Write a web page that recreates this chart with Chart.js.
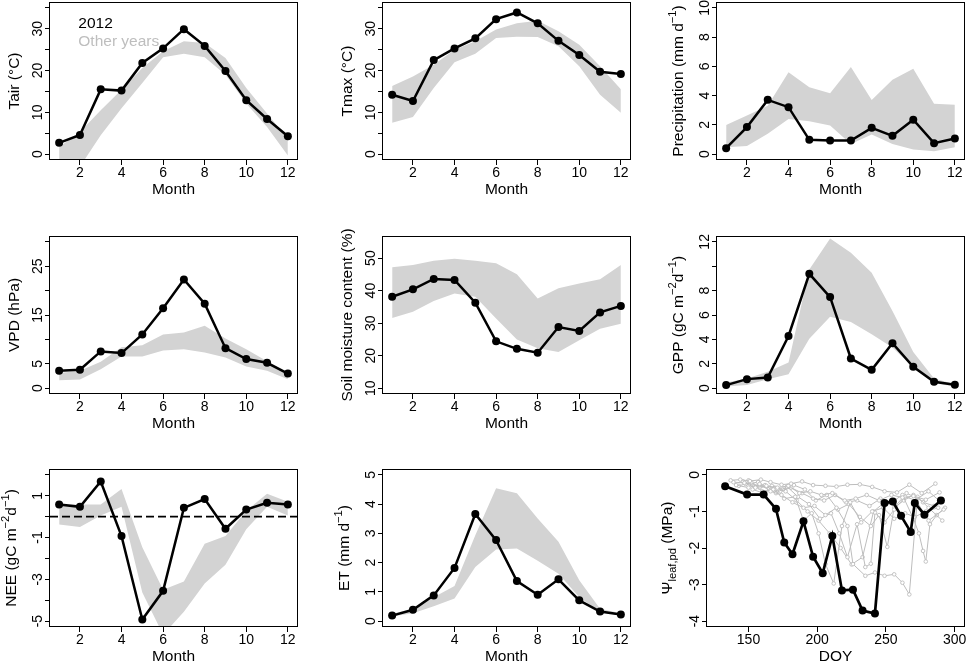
<!DOCTYPE html>
<html>
<head>
<meta charset="utf-8">
<script src="https://cdn.jsdelivr.net/npm/chart.js@4.4.0/dist/chart.umd.min.js"></script>
<style>
html, body { margin: 0; padding: 0; background: #fff; overflow: hidden; width: 968px; height: 664px; }
canvas { position: absolute; }
</style>
</head>
<body>
<script>
// months on the x axis of the monthly panels
const months = [1, 2, 3, 4, 5, 6, 7, 8, 9, 10, 11, 12];

// air temperature (°C): 2012 line, other years envelope
const tair2012 = [2.7, 4.6, 15.5, 15.2, 21.8, 25.3, 29.9, 25.9, 19.9, 12.9, 8.4, 4.3];
const tairHi = [1.7, 5.3, 10.5, 15.4, 20.6, 24.6, 27.0, 26.6, 23.0, 15.8, 9.7, 3.7];
const tairLo = [-2.0, -3.0, 4.5, 11.0, 17.0, 23.2, 24.0, 23.2, 19.0, 12.1, 6.5, -0.3];

// max temperature (°C)
const tmax2012 = [14.2, 12.7, 22.5, 25.3, 27.7, 32.3, 33.9, 31.3, 27.1, 23.7, 19.7, 19.2];
const tmaxHi = [16.3, 18.6, 21.4, 25.0, 27.0, 29.8, 31.3, 31.9, 29.4, 26.2, 21.0, 15.5];
const tmaxLo = [7.5, 8.9, 15.8, 22.0, 24.0, 27.8, 28.1, 28.0, 25.8, 21.0, 14.2, 9.9];

// precipitation (mm/d)
const prec2012 = [0.41, 1.85, 3.71, 3.21, 0.98, 0.93, 0.93, 1.80, 1.25, 2.35, 0.75, 1.07];
const precHi = [2.0, 2.64, 3.3, 5.6, 4.58, 4.17, 5.95, 3.7, 5.08, 5.83, 3.44, 3.37];
const precLo = [0.48, 0.55, 1.4, 2.4, 2.25, 1.96, 0.7, 1.35, 0.7, 0.32, 0.2, 0.48];

// VPD (hPa)
const vpd2012 = [3.56, 3.77, 7.53, 7.19, 11.0, 16.4, 22.3, 17.3, 8.2, 5.96, 5.2, 3.0];
const vpdHi = [3.1, 3.56, 5.4, 8.4, 8.8, 11.0, 11.4, 12.8, 10.2, 8.0, 5.5, 2.5];
const vpdLo = [1.64, 1.78, 3.9, 6.5, 6.5, 7.7, 8.0, 7.3, 6.3, 4.45, 3.56, 1.85];

// soil moisture (%)
const swc2012 = [38.1, 40.4, 43.6, 43.3, 36.3, 24.4, 22.1, 20.9, 28.8, 27.6, 33.3, 35.3];
const swcHi = [47.2, 47.9, 49.2, 49.8, 49.2, 48.4, 45.0, 37.6, 40.7, 42.2, 43.5, 47.9];
const swcLo = [31.6, 33.5, 36.8, 39.1, 38.1, 31.4, 25.0, 22.3, 21.1, 24.7, 28.3, 29.8];

// GPP (gC m-2 d-1)
const gpp2012 = [0.25, 0.74, 0.87, 4.28, 9.38, 7.47, 2.43, 1.5, 3.68, 1.75, 0.52, 0.27];
const gppHi = [0.46, 0.79, 1.34, 2.1, 9.74, 12.27, 11.1, 9.46, 6.33, 2.97, 0.79, 0.33];
const gppLo = [0.14, 0.25, 0.74, 1.15, 4.06, 5.86, 5.43, 4.42, 3.33, 1.69, 0.41, 0.14];

// NEE (gC m-2 d-1)
const nee2012 = [0.58, 0.47, 1.68, -0.93, -4.92, -3.55, 0.42, 0.84, -0.58, 0.34, 0.66, 0.58];
const neeHi = [0.58, 0.58, 0.58, 1.32, -1.46, -3.5, -3.1, -1.3, -0.93, 0.28, 1.1, 0.71];
const neeLo = [-0.38, -0.5, 0.06, 0.47, -3.63, -5.65, -4.55, -3.2, -2.3, -0.6, 0.47, 0.06];

// ET (mm/d)
const et2012 = [0.19, 0.39, 0.88, 1.82, 3.66, 2.77, 1.37, 0.9, 1.43, 0.71, 0.33, 0.23];
const etHi = [0.25, 0.42, 0.82, 1.2, 2.94, 4.54, 4.37, 3.51, 2.71, 1.4, 0.42, 0.27];
const etLo = [0.16, 0.27, 0.51, 0.77, 1.85, 2.45, 2.48, 2.06, 1.62, 0.82, 0.31, 0.19];

// predawn leaf water potential (MPa) vs DOY, 2012
const psiDoy2012 = [133, 149, 161, 170, 176, 182, 190, 197, 204, 211, 218, 226, 233, 242, 249, 255, 261, 268, 271, 278, 290];
const psi2012 = [-0.31, -0.54, -0.54, -0.93, -1.85, -2.17, -1.27, -2.24, -2.69, -1.67, -3.16, -3.14, -3.71, -3.79, -0.77, -0.73, -1.12, -1.56, -0.77, -1.09, -0.70];

// other years
const oy1Doy = [137, 144, 151, 159, 166, 174, 181, 189, 197, 206, 214, 222, 231, 240, 249, 258, 267, 276, 286];
const oy1Psi = [-0.15, -0.13, -0.17, -0.13, -0.2, -0.27, -0.24, -0.18, -0.28, -0.3, -0.32, -0.27, -0.26, -0.33, -0.45, -0.48, -0.27, -0.5, -0.24];
const oy2Doy = [139, 147, 155, 163, 171, 179, 187, 195, 203, 211, 220, 228, 236, 245, 254, 262, 270, 279, 289];
const oy2Psi = [-0.2, -0.22, -0.35, -0.3, -0.35, -0.3, -0.5, -0.45, -0.55, -0.5, -0.7, -0.65, -0.55, -0.7, -0.55, -0.62, -0.58, -0.68, -0.48];
const oy3Doy = [141, 150, 158, 166, 174, 182, 190, 198, 206, 214, 222, 226, 235, 242, 249, 256, 262, 267, 273, 281, 291];
const oy3Psi = [-0.28, -0.35, -0.25, -0.45, -0.55, -0.75, -0.9, -0.85, -1.1, -0.9, -1.4, -2.44, -2.76, -2.67, -2.76, -2.72, -2.95, -3.27, -0.6, -0.9, -1.25];
const oy4Doy = [143, 152, 160, 168, 176, 184, 190, 196, 201, 206, 212, 218, 224, 232, 240, 248, 256, 264, 271, 279, 288];
const oy4Psi = [-0.3, -0.2, -0.45, -0.4, -0.65, -0.6, -1.25, -1.05, -1.6, -2.44, -2.97, -1.4, -0.75, -1.3, -1.0, -0.9, -1.2, -1.05, -1.15, -1.0, -0.9];
const oy5Doy = [146, 154, 162, 170, 178, 186, 194, 202, 210, 216, 222, 229, 235, 239, 242, 249, 256, 264, 272, 281, 292];
const oy5Psi = [-0.18, -0.3, -0.28, -0.5, -0.32, -0.6, -0.8, -1.2, -1.05, -1.6, -2.25, -1.35, -2.52, -2.43, -1.03, -1.3, -0.95, -0.6, -0.7, -1.25, -0.95];
const oy6Doy = [148, 157, 165, 173, 181, 189, 197, 205, 213, 221, 229, 238, 246, 254, 262, 270, 274, 277, 279, 282, 287, 293];
const oy6Psi = [-0.25, -0.2, -0.38, -0.45, -0.35, -0.5, -0.65, -0.7, -0.55, -0.75, -0.7, -0.85, -0.65, -0.75, -0.55, -1.2, -1.6, -2.08, -2.37, -1.35, -1.1, -0.9];
const oy7Doy = [150, 158, 167, 175, 183, 191, 199, 207, 215, 223, 231, 239, 245, 251, 256, 263, 270, 277, 285];
const oy7Psi = [-0.15, -0.35, -0.3, -0.4, -0.28, -0.4, -0.7, -0.55, -0.95, -0.8, -1.15, -1.4, -1.1, -1.97, -0.9, -0.7, -0.55, -0.75, -0.85];
const oy8Doy = [153, 161, 169, 177, 185, 193, 201, 209, 217, 225, 233, 241, 249, 257, 265, 273, 281, 290];
const oy8Psi = [-0.4, -0.5, -0.35, -0.45, -0.7, -1.0, -1.25, -1.6, -2.0, -2.45, -2.25, -1.0, -0.75, -0.85, -0.5, -0.65, -0.45, -0.75];

const otherDoy = [oy1Doy, oy2Doy, oy3Doy, oy4Doy, oy5Doy, oy6Doy, oy7Doy, oy8Doy];
const otherPsi = [oy1Psi, oy2Psi, oy3Psi, oy4Psi, oy5Psi, oy6Psi, oy7Psi, oy8Psi];

const FONT = '"Liberation Sans", Arial, Helvetica, sans-serif';
Chart.defaults.font.family = FONT;
Chart.defaults.color = '#000';

const BAND = '#d3d3d3';
const OTHER = '#bdbdbd';
const TITLE_SIZE = 15.5;

// box positions of the 3x3 grid
const colLeft = [50, 383, 717];
const rowTop = [2, 236, 469];
const boxH = 158;
const PAD_TOP = 14;

function pairs(xs, ys) {
  return xs.map((x, i) => ({ x: x, y: ys[i] }));
}

function range(a, b, s) {
  const out = [];
  for (let v = a; v <= b + 1e-9; v += s) out.push(Math.round(v * 100) / 100);
  return out;
}

function drawRich(ctx, segs, size) {
  const fonts = segs.map(s => ((s.sup || s.sub) ? size * 0.72 : size) + 'px ' + FONT);
  let total = 0;
  const widths = segs.map((s, i) => {
    ctx.font = fonts[i];
    const w = ctx.measureText(s.t).width;
    total += w;
    return w;
  });
  let x = -total / 2;
  ctx.textAlign = 'left';
  ctx.textBaseline = 'alphabetic';
  segs.forEach((s, i) => {
    ctx.font = fonts[i];
    const dy = s.sup ? -size * 0.42 : (s.sub ? size * 0.28 : 0);
    ctx.fillText(s.t, x, dy);
    x += widths[i];
  });
}

function monthSets(line, hi, lo) {
  return [
    { data: pairs(months, line), borderColor: '#000', borderWidth: 2.5, pointRadius: 4,
      pointBackgroundColor: '#000', pointBorderWidth: 0, fill: false },
    { data: pairs(months, hi), borderColor: 'rgba(0,0,0,0)', borderWidth: 0, pointRadius: 0,
      backgroundColor: BAND, fill: '+1' },
    { data: pairs(months, lo), borderColor: 'rgba(0,0,0,0)', borderWidth: 0, pointRadius: 0, fill: false }
  ];
}

function makePanel(p) {
  const boxL = p.boxL !== undefined ? p.boxL : colLeft[p.col];
  const boxW = p.boxW !== undefined ? p.boxW : 247;
  const W = 50 + boxW + 8, H = PAD_TOP + boxH + 46;
  const cv = document.createElement('canvas');
  cv.width = W; cv.height = H;
  cv.style.left = (boxL - 50) + 'px';
  cv.style.top = (rowTop[p.row] - PAD_TOP) + 'px';
  document.body.appendChild(cv);

  const decor = {
    id: 'decor' + p.col + p.row,
    beforeDatasetsDraw(chart) {
      if (!p.legend) return;
      const ctx = chart.ctx, a = chart.chartArea;
      ctx.save();
      ctx.font = TITLE_SIZE + 'px ' + FONT;
      ctx.textAlign = 'left';
      ctx.textBaseline = 'alphabetic';
      ctx.fillStyle = '#000';
      ctx.fillText('2012', a.left + 28.3, a.top + 26.3);
      ctx.fillStyle = '#bebebe';
      ctx.fillText('Other years', a.left + 28.3, a.top + 44);
      ctx.restore();
    },
    afterDatasetDraw(chart, args) {
      if (p.hline === undefined || args.index !== 1) return;
      const ctx = chart.ctx, a = chart.chartArea;
      const y = chart.scales.y.getPixelForValue(p.hline);
      ctx.save();
      ctx.strokeStyle = '#000';
      ctx.lineWidth = 1.7;
      ctx.setLineDash([8, 4]);
      ctx.beginPath();
      ctx.moveTo(a.left, y);
      ctx.lineTo(a.right, y);
      ctx.stroke();
      ctx.restore();
    },
    afterDraw(chart) {
      const ctx = chart.ctx, a = chart.chartArea, ys = chart.scales.y;
      ctx.save();
      ctx.strokeStyle = '#000';
      ctx.lineWidth = 1;
      ctx.strokeRect(a.left - 0.5, a.top + 0.5, a.right - a.left + 1, a.bottom - a.top - 1);
      ctx.fillStyle = '#000';
      ctx.font = '14px ' + FONT;
      ctx.textAlign = 'center';
      ctx.textBaseline = 'alphabetic';
      p.yLabels.forEach(v => {
        ctx.save();
        ctx.translate(a.left - 8.3, ys.getPixelForValue(v));
        ctx.rotate(-Math.PI / 2);
        ctx.fillText(String(v), 0, 0);
        ctx.restore();
      });
      ctx.translate(a.left - p.titleOff, (a.top + a.bottom) / 2);
      ctx.rotate(-Math.PI / 2);
      drawRich(ctx, p.title, TITLE_SIZE);
      ctx.restore();
    }
  };

  new Chart(cv, {
    type: 'line',
    data: { datasets: p.datasets },
    options: {
      responsive: false,
      animation: false,
      layout: { padding: { left: 0, top: PAD_TOP, right: 8, bottom: 0 } },
      elements: { line: { tension: 0 } },
      plugins: { legend: { display: false }, tooltip: { enabled: false } },
      scales: {
        x: {
          type: 'linear', min: p.xMin, max: p.xMax,
          afterBuildTicks: s => { s.ticks = p.xTicks.map(v => ({ value: v })); },
          afterFit: s => { s.height = 46; },
          grid: { drawOnChartArea: false, drawTicks: true, tickLength: 5, color: '#000', lineWidth: 1 },
          border: { display: false },
          ticks: { padding: 0, color: '#000', font: { size: 14 }, maxRotation: 0, autoSkip: false,
                   callback: v => String(v) },
          title: { display: true, text: p.xTitle, color: '#000', font: { size: TITLE_SIZE },
                   padding: { top: 0, bottom: 6.5 } }
        },
        y: {
          type: 'linear', min: p.yMin, max: p.yMax,
          afterBuildTicks: s => { s.ticks = p.yTicks.map(v => ({ value: v })); },
          afterFit: s => { s.width = 50; },
          grid: { drawOnChartArea: false, drawTicks: true, tickLength: 5, color: '#000', lineWidth: 1 },
          border: { display: false },
          ticks: { display: false }
        }
      }
    },
    plugins: [decor]
  });
}

const monthAxis = { xMin: 0.56, xMax: 12.44, xTicks: [2, 4, 6, 8, 10, 12], xTitle: 'Month' };

const panels = [
  Object.assign({ col: 0, row: 0, datasets: monthSets(tair2012, tairHi, tairLo),
    yMin: -1.4, yMax: 36.4, yTicks: range(0, 35, 5), yLabels: [0, 10, 20, 30],
    title: [{ t: 'Tair (°C)' }], titleOff: 31, legend: true }, monthAxis),
  Object.assign({ col: 1, row: 0, datasets: monthSets(tmax2012, tmaxHi, tmaxLo),
    yMin: -1.4, yMax: 36.4, yTicks: range(0, 35, 5), yLabels: [0, 10, 20, 30],
    title: [{ t: 'Tmax (°C)' }], titleOff: 31 }, monthAxis),
  Object.assign({ col: 2, row: 0, datasets: monthSets(prec2012, precHi, precLo),
    yMin: -0.4, yMax: 10.4, yTicks: range(0, 10, 2), yLabels: [0, 2, 4, 6, 8, 10],
    title: [{ t: 'Precipitation (mm d' }, { t: '\u22121', sup: true }, { t: ')' }], titleOff: 34 }, monthAxis),
  Object.assign({ col: 0, row: 1, datasets: monthSets(vpd2012, vpdHi, vpdLo),
    yMin: -1.2, yMax: 31.2, yTicks: range(0, 30, 5), yLabels: [0, 5, 15, 25],
    title: [{ t: 'VPD (hPa)' }], titleOff: 31 }, monthAxis),
  Object.assign({ col: 1, row: 1, datasets: monthSets(swc2012, swcHi, swcLo),
    yMin: 8.2, yMax: 56.8, yTicks: range(10, 50, 10), yLabels: [10, 20, 30, 40, 50],
    title: [{ t: 'Soil moisture content (%)' }], titleOff: 31 }, monthAxis),
  Object.assign({ col: 2, row: 1, datasets: monthSets(gpp2012, gppHi, gppLo),
    yMin: -0.48, yMax: 12.48, yTicks: range(0, 12, 2), yLabels: [0, 2, 4, 6, 8, 12],
    title: [{ t: 'GPP (gC m' }, { t: '\u22122', sup: true }, { t: 'd' }, { t: '\u22121', sup: true }, { t: ')' }],
    titleOff: 34 }, monthAxis),
  Object.assign({ col: 0, row: 2, datasets: monthSets(nee2012, neeHi, neeLo),
    yMin: -5.28, yMax: 2.28, yTicks: range(-5, 2, 1), yLabels: [-5, -3, -1, 1],
    title: [{ t: 'NEE (gC m' }, { t: '\u22122', sup: true }, { t: 'd' }, { t: '\u22121', sup: true }, { t: ')' }],
    titleOff: 34, hline: 0 }, monthAxis),
  Object.assign({ col: 1, row: 2, datasets: monthSets(et2012, etHi, etLo),
    yMin: -0.2, yMax: 5.2, yTicks: range(0, 5, 1), yLabels: [0, 1, 2, 3, 4, 5],
    title: [{ t: 'ET (mm d' }, { t: '\u22121', sup: true }, { t: ')' }], titleOff: 34 }, monthAxis)
];

const psiSets = [
  { data: pairs(psiDoy2012, psi2012), borderColor: '#000', borderWidth: 2.7, pointRadius: 4,
    pointBackgroundColor: '#000', pointBorderWidth: 0, fill: false }
].concat(otherDoy.map((d, i) => ({
  data: pairs(d, otherPsi[i]), borderColor: OTHER, borderWidth: 1, pointRadius: 1.8,
  pointBackgroundColor: '#fff', pointBorderColor: OTHER, pointBorderWidth: 0.9, fill: false
})));

panels.push({ col: 2, row: 2, boxL: 707, boxW: 257, datasets: psiSets,
  xMin: 119.8, xMax: 306.8, xTicks: [150, 200, 250, 300], xTitle: 'DOY',
  yMin: -4.16, yMax: 0.16, yTicks: range(-4, 0, 1), yLabels: [0, -1, -2, -3, -4],
  title: [{ t: '\u03a8' }, { t: 'leaf,pd', sub: true }, { t: ' (MPa)' }], titleOff: 35 });

panels.forEach(makePanel);
</script>
</body>
</html>
